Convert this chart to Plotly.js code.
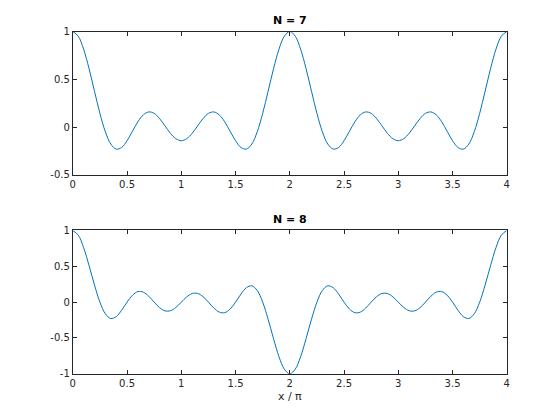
<!DOCTYPE html>
<html>
<head>
<meta charset="utf-8">
<script src="https://cdn.plot.ly/plotly-3.0.1.min.js"></script>
<style>html,body{margin:0;padding:0;background:#fff}#chart{width:560px;height:420px}</style>
</head>
<body>
<div id="chart"></div>
<script>
// x in units of pi, sampled every 0.05
var xOverPi = [];
for (var i = 0; i <= 80; i++) { xOverPi.push(+(i * 0.05).toFixed(2)); }

var diricN7 = [
  1, 0.951, 0.814, 0.610, 0.374, 0.143, -0.049, -0.178, -0.231, -0.214, -0.143, -0.044, 0.055, 0.127, 0.158, 0.143, 0.088, 0.012, -0.066, -0.122, -0.143,
  -0.122, -0.066, 0.012, 0.088, 0.143, 0.158, 0.127, 0.055, -0.044, -0.143, -0.214, -0.231, -0.178, -0.049, 0.143, 0.374, 0.610, 0.814, 0.951, 1,
  0.951, 0.814, 0.610, 0.374, 0.143, -0.049, -0.178, -0.231, -0.214, -0.143, -0.044, 0.055, 0.127, 0.158, 0.143, 0.088, 0.012, -0.066, -0.122, -0.143,
  -0.122, -0.066, 0.012, 0.088, 0.143, 0.158, 0.127, 0.055, -0.044, -0.143, -0.214, -0.231, -0.178, -0.049, 0.143, 0.374, 0.610, 0.814, 0.951, 1
];

var diricN8 = [
  1, 0.936, 0.760, 0.509, 0.238, 0, -0.162, -0.228, -0.202, -0.113, 0, 0.097, 0.147, 0.139, 0.082, 0, -0.077, -0.122, -0.120, -0.074, 0,
  0.074, 0.120, 0.122, 0.077, 0, -0.082, -0.139, -0.147, -0.097, 0, 0.113, 0.202, 0.228, 0.162, 0, -0.238, -0.509, -0.760, -0.936, -1,
  -0.936, -0.760, -0.509, -0.238, 0, 0.162, 0.228, 0.202, 0.113, 0, -0.097, -0.147, -0.139, -0.082, 0, 0.077, 0.122, 0.120, 0.074, 0,
  -0.074, -0.120, -0.122, -0.077, 0, 0.082, 0.139, 0.147, 0.097, 0, -0.113, -0.202, -0.228, -0.162, 0, 0.238, 0.509, 0.760, 0.936, 1
];

var xTicks = [0, 0.5, 1, 1.5, 2, 2.5, 3, 3.5, 4];
var xTickText = ['0', '0.5', '1', '1.5', '2', '2.5', '3', '3.5', '4'];
var yTicksTop = [-0.5, 0, 0.5, 1];
var yTickTextTop = ['-0.5', '0', '0.5', '1'];
var yTicksBottom = [-1, -0.5, 0, 0.5, 1];
var yTickTextBottom = ['-1', '-0.5', '0', '0.5', '1'];
var titles = ['N = 7', 'N = 8'];
var xLabel = 'x / π';

var lineColor = '#0072BD';
var axColor = '#262626';
var fontFam = 'DejaVu Sans, sans-serif';

var traces = [
  {x: xOverPi, y: diricN7, type: 'scatter', mode: 'lines', line: {color: lineColor, width: 1, shape: 'spline', smoothing: 1}, xaxis: 'x', yaxis: 'y', hoverinfo: 'none'},
  {x: xOverPi, y: diricN8, type: 'scatter', mode: 'lines', line: {color: lineColor, width: 1, shape: 'spline', smoothing: 1}, xaxis: 'x2', yaxis: 'y2', hoverinfo: 'none'}
];

function xax(anchor, withTitle) {
  var a = {
    domain: [0.13, 0.905], anchor: anchor, range: [0, 4],
    tickvals: xTicks, ticktext: xTickText, ticks: 'inside', ticklen: 4, tickwidth: 1, tickcolor: axColor,
    showline: true, linecolor: axColor, linewidth: 1, mirror: 'ticks',
    showgrid: false, zeroline: false,
    tickfont: {family: fontFam, size: 10, color: axColor}
  };
  if (withTitle) {
    a.title = {text: xLabel, font: {family: fontFam, size: 11, color: axColor}, standoff: 4};
  }
  return a;
}
function yax(anchor, dom, rng, ticks, text) {
  return {
    domain: dom, anchor: anchor, range: rng,
    tickvals: ticks, ticktext: text, ticks: 'inside', ticklen: 4, tickwidth: 1, tickcolor: axColor,
    showline: true, linecolor: axColor, linewidth: 1, mirror: 'ticks',
    showgrid: false, zeroline: false,
    tickfont: {family: fontFam, size: 10, color: axColor}
  };
}

var layout = {
  width: 560, height: 420,
  margin: {l: 0, r: 0, t: 0, b: 0},
  paper_bgcolor: '#ffffff', plot_bgcolor: '#ffffff',
  showlegend: false,
  xaxis: xax('y', false),
  yaxis: yax('x', [0.5838, 0.925], [-0.5, 1], yTicksTop, yTickTextTop),
  xaxis2: xax('y2', true),
  yaxis2: yax('x2', [0.11, 0.4512], [-1, 1], yTicksBottom, yTickTextBottom),
  annotations: [
    {text: '<b>' + titles[0] + '</b>', xref: 'paper', yref: 'paper', x: 0.5175, y: 0.925, yshift: 2, xanchor: 'center', yanchor: 'bottom', showarrow: false, font: {family: fontFam, size: 11, color: '#000'}},
    {text: '<b>' + titles[1] + '</b>', xref: 'paper', yref: 'paper', x: 0.5175, y: 0.4512, yshift: 2, xanchor: 'center', yanchor: 'bottom', showarrow: false, font: {family: fontFam, size: 11, color: '#000'}}
  ]
};

Plotly.newPlot('chart', traces, layout, {staticPlot: true, displayModeBar: false});
</script>
</body>
</html>
